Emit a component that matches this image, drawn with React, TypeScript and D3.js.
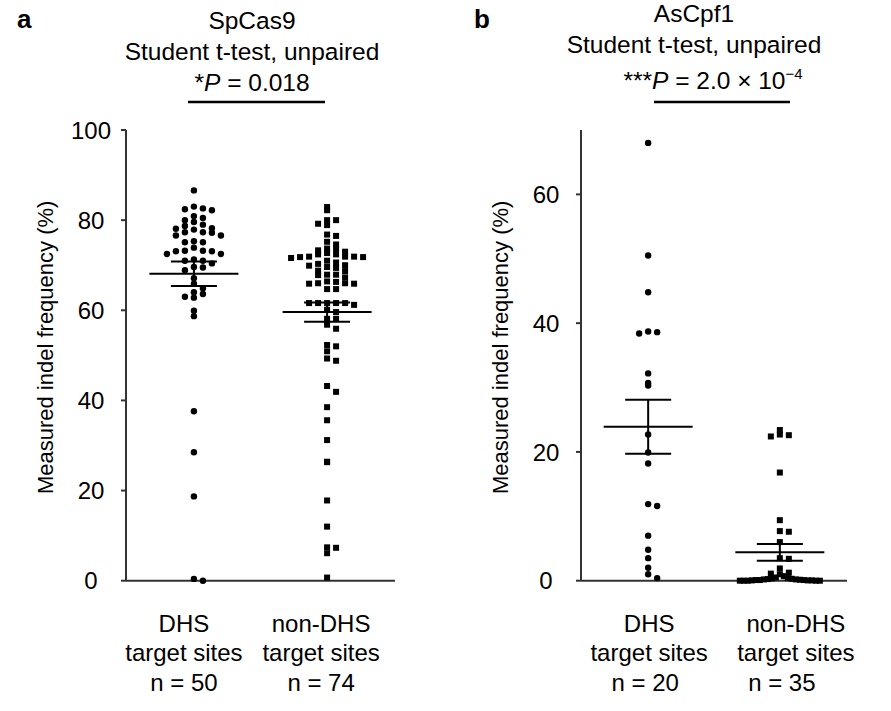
import React from "react";
import * as d3 from "d3";

// ---------- data ----------
const categories = ["DHS", "non-DHS"];
const categorySubLabel = "target sites";
const nLabelsA = ["n = 50", "n = 74"];
const nLabelsB = ["n = 20", "n = 35"];

const spCas9Dhs = [
  86.6, 83.0, 82.4, 82.2, 82.6, 80.9, 80.5, 79.6, 80.0, 78.7, 79.0, 78.2, 77.9, 78.1,
  76.6, 77.3, 77.2, 77.3, 76.6, 75.3, 75.1, 75.1, 73.9, 73.2, 72.5, 73.1, 73.1, 73.2,
  72.5, 71.3, 71.0, 71.0, 70.4, 69.5, 68.9, 69.6, 67.1, 65.9, 64.9, 64.0, 63.0, 62.8,
  63.6, 58.7, 59.9, 37.6, 28.5, 18.7, 0.0, 0.4,
];
const spCas9NonDhs = [
  82.9, 82.2, 80.0, 78.9, 79.2, 80.0, 76.8, 76.5, 75.2, 73.7, 73.3, 73.6, 74.6, 72.4,
  71.9, 71.8, 71.9, 71.6, 71.8, 71.9, 72.4, 72.7, 71.0, 70.3, 69.9, 69.4, 69.6, 70.0,
  68.8, 68.7, 67.9, 67.8, 67.3, 67.9, 66.3, 66.0, 65.9, 64.7, 64.7, 65.9, 66.0, 66.4,
  61.6, 61.6, 61.6, 61.6, 61.6, 59.6, 60.1, 58.1, 58.1, 56.8, 55.9, 52.3, 52.0, 50.9,
  49.3, 48.8, 43.2, 41.9, 38.5, 35.6, 31.2, 26.3, 26.4, 17.8, 12.0, 7.3, 7.4, 6.1,
  0.7, 70.6, 73.0, 61.2,
];
const asCpf1Dhs = [
  68.0, 50.5, 44.8, 38.7, 38.4, 38.6, 32.2, 30.3, 30.7, 22.7, 19.9, 18.2, 11.6, 11.9,
  7.0, 4.8, 3.5, 2.0, 1.0, 0.4,
];
const asCpf1NonDhs = [
  23.4, 22.6, 22.4, 22.7, 16.8, 9.4, 7.6, 7.7, 6.0, 3.5, 3.4, 1.9, 1.25, 1.1, 1.0,
  0.7, 0.5, 0.4, 0.35, 0.3, 0.25, 0.2, 0.2, 0.15, 0.1, 0.1, 0.1, 0.05, 0.05, 0.05,
  0, 0, 0, 0, 0,
];
const spCas9Means = [68.1, 59.6];
const spCas9Sems = [2.7, 2.15];
const asCpf1Means = [23.9, 4.4];
const asCpf1Sems = [4.2, 1.3];

const yTicksA = [0, 20, 40, 60, 80, 100];
const yTicksB = [0, 20, 40, 60];

const FONT = "'Liberation Sans', Arial, Helvetica, sans-serif";
const INK = "#000";
const AXIS = "#333";

type Pt = { v: number; py: number; dx: number };

function swarm(values: number[], y: d3.ScaleLinear<number, number>, step: number, binH: number, maxHalf: number): Pt[] {
  const pts = values.map((v) => ({ v, py: y(v) }));
  const bins = d3.group(pts, (p) => Math.floor(p.py / binH));
  const out: Pt[] = [];
  for (const [, arr] of bins) {
    arr.sort((a, b) => b.v - a.v);
    const n = arr.length;
    const maxK = Math.ceil((n - 1) / 2);
    const s = maxK > 0 ? Math.min(step, maxHalf / maxK) : step;
    arr.forEach((p, i) => {
      const k = i === 0 ? 0 : i % 2 === 1 ? (i + 1) / 2 : -i / 2;
      out.push({ v: p.v, py: p.py, dx: k * s });
    });
  }
  return out;
}

type PanelProps = {
  axisX: number;
  endX: number;
  yMax: number;
  ticks: number[];
  groups: number[][];
  means: number[];
  sems: number[];
  nLabels: string[];
  labelOffsets: number[];
  nOffsets: number[];
  titleX: number;
  binH: number[];
};

function Panel(p: PanelProps) {
  const top = 130;
  const bottom = 580.7;
  const y = d3.scaleLinear().domain([0, p.yMax]).range([bottom, top]);
  const x = d3.scalePoint<string>().domain(categories).range([p.axisX, p.endX]).padding(0.51);
  const step = 9;
  return (
    <g>
      <line x1={p.axisX} x2={p.axisX} y1={top} y2={bottom} stroke={AXIS} strokeWidth={2} />
      {p.ticks.map((t) => (
        <g key={t}>
          <line x1={p.axisX - 5} x2={p.axisX} y1={y(t)} y2={y(t)} stroke={AXIS} strokeWidth={2} />
          <text x={p.axisX - 35} y={y(t)} dy="0.36em" textAnchor="middle" fontSize={24} fontFamily={FONT} fill={INK}>
            {t}
          </text>
        </g>
      ))}
      <line x1={p.axisX} x2={p.endX} y1={bottom} y2={bottom} stroke={AXIS} strokeWidth={2} />
      <text
        transform={`translate(${p.titleX},${(top + bottom) / 2 - 8}) rotate(-90)`}
        textAnchor="middle"
        fontSize={22}
        fontFamily={FONT}
        fill={INK}
      >
        Measured indel frequency (%)
      </text>
      {categories.map((c, gi) => {
        const cx = x(c)!;
        const pts = swarm(p.groups[gi], y, step, p.binH[gi], 40);
        const m = p.means[gi];
        const s = p.sems[gi];
        return (
          <g key={c}>
            {pts.map((pt, i) =>
              gi === 0 ? (
                <circle key={i} cx={cx + pt.dx} cy={pt.py} r={3.2} fill={INK} />
              ) : (
                <rect key={i} x={cx + pt.dx - 3} y={pt.py - 3} width={6} height={6} fill={INK} />
              )
            )}
            <line x1={cx - 44.5} x2={cx + 44.5} y1={y(m)} y2={y(m)} stroke={INK} strokeWidth={2} />
            <line x1={cx - 23} x2={cx + 23} y1={y(m + s)} y2={y(m + s)} stroke={INK} strokeWidth={2} />
            <line x1={cx - 23} x2={cx + 23} y1={y(m - s)} y2={y(m - s)} stroke={INK} strokeWidth={2} />
            <line x1={cx} x2={cx} y1={y(m + s)} y2={y(m - s)} stroke={INK} strokeWidth={2} />
            <text x={cx + p.labelOffsets[gi]} y={632} textAnchor="middle" fontSize={24} fontFamily={FONT} fill={INK}>
              {c}
            </text>
            <text x={cx + p.labelOffsets[gi]} y={661} textAnchor="middle" fontSize={24} fontFamily={FONT} fill={INK}>
              {categorySubLabel}
            </text>
            <text x={cx + p.nOffsets[gi]} y={691} textAnchor="middle" fontSize={24} fontFamily={FONT} fill={INK}>
              {p.nLabels[gi]}
            </text>
          </g>
        );
      })}
    </g>
  );
}

export default function App() {
  return (
    <div style={{ position: "absolute", left: 0, top: 0 }}>
      <svg width={891} height={711} viewBox="0 0 891 711" style={{ display: "block", background: "#fff" }}>
        <rect width={891} height={711} fill="#fff" />
        <text x={17} y={28} fontSize={26} fontWeight="bold" fontFamily={FONT} fill={INK}>a</text>
        <text x={252} y={29} textAnchor="middle" fontSize={24.5} fontFamily={FONT} fill={INK}>SpCas9</text>
        <text x={252} y={60} textAnchor="middle" fontSize={24.5} fontFamily={FONT} fill={INK}>Student t-test, unpaired</text>
        <text x={252} y={91} textAnchor="middle" fontSize={24.5} fontFamily={FONT} fill={INK}>
          *<tspan fontStyle="italic">P</tspan> = 0.018
        </text>
        <line x1={188} x2={325} y1={102} y2={102} stroke={INK} strokeWidth={2.5} />
        <text x={474} y={28} fontSize={26} fontWeight="bold" fontFamily={FONT} fill={INK}>b</text>
        <text x={694} y={22} textAnchor="middle" fontSize={24.5} fontFamily={FONT} fill={INK}>AsCpf1</text>
        <text x={694} y={53} textAnchor="middle" fontSize={24.5} fontFamily={FONT} fill={INK}>Student t-test, unpaired</text>
        <text x={713} y={89} textAnchor="middle" fontSize={24.5} fontFamily={FONT} fill={INK}>
          ***<tspan fontStyle="italic">P</tspan> = 2.0 × 10<tspan fontSize={15} dy={-10}>−4</tspan>
        </text>
        <line x1={654} x2={790} y1={102} y2={102} stroke={INK} strokeWidth={2.5} />

        <Panel
          axisX={126}
          endX={395}
          yMax={100}
          ticks={yTicksA}
          groups={[spCas9Dhs, spCas9NonDhs]}
          means={spCas9Means}
          sems={spCas9Sems}
          nLabels={nLabelsA}
          labelOffsets={[-10, -6]}
          nOffsets={[-10, -6]}
          titleX={53}
          binH={[8.5, 7]}
        />
        <Panel
          axisX={581}
          endX={847}
          yMax={70}
          ticks={yTicksB}
          groups={[asCpf1Dhs, asCpf1NonDhs]}
          means={asCpf1Means}
          sems={asCpf1Sems}
          nLabels={nLabelsB}
          labelOffsets={[1, 16]}
          nOffsets={[-3, 2]}
          titleX={508}
          binH={[7, 7]}
        />
      </svg>
    </div>
  );
}
